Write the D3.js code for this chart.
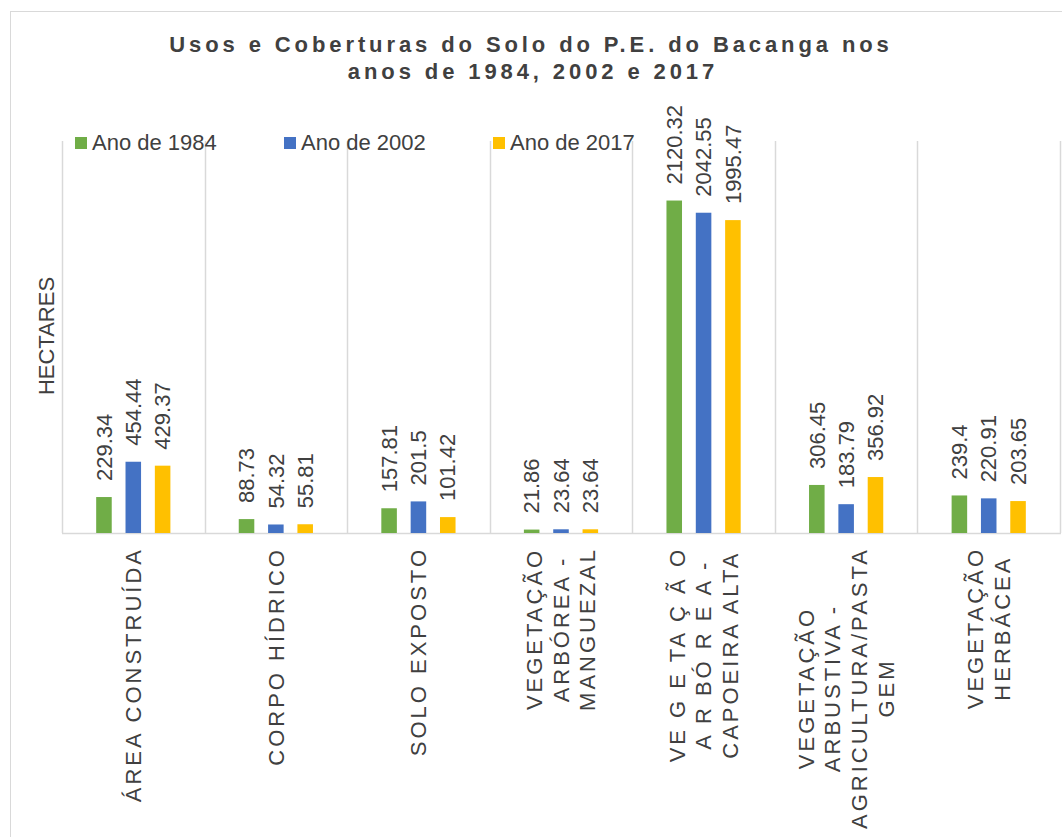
<!DOCTYPE html>
<html>
<head>
<meta charset="utf-8">
<script src="https://cdn.jsdelivr.net/npm/d3@7"></script>
<style>
  body { margin: 0; background: #fff; }
  svg text { font-family: "Liberation Sans", Arial, sans-serif; fill: #404040; }
</style>
</head>
<body>
<svg></svg>
<script>
const categories = [
  "ÁREA CONSTRUÍDA",
  "CORPO HÍDRICO",
  "SOLO EXPOSTO",
  "VEGETAÇÃO ARBÓREA - MANGUEZAL",
  "VEGETAÇÃO ARBÓREA - CAPOEIRA ALTA",
  "VEGETAÇÃO ARBUSTIVA - AGRICULTURA/PASTAGEM",
  "VEGETAÇÃO HERBÁCEA"
];

// lines as they are broken under the axis
const categoryLines = [
  ["ÁREA  CONSTRUÍDA"],
  ["CORPO HÍDRICO"],
  ["SOLO  EXPOSTO"],
  ["VEGETAÇÃO", "ARBÓREA -", "MANGUEZAL"],
  ["VE G E TA Ç Ã O", "A R BÓ R E A -", "CAPOEIRA ALTA"],
  ["VEGETAÇÃO", "ARBUSTIVA -", "AGRICULTURA/PASTA", "GEM"],
  ["VEGETAÇÃO", "HERBÁCEA"]
];

const seriesNames = ["Ano de 1984", "Ano de 2002", "Ano de 2017"];
const values1984 = [229.34, 88.73, 157.81, 21.86, 2120.32, 306.45, 239.4];
const values2002 = [454.44, 54.32, 201.5, 23.64, 2042.55, 183.79, 220.91];
const values2017 = [429.37, 55.81, 101.42, 23.64, 1995.47, 356.92, 203.65];

const colors = ["#70AD47", "#4472C4", "#FFC000"];

const width = 1062;
const height = 837;

const svg = d3.select("svg")
  .attr("width", width)
  .attr("height", height);

// chart border
svg.append("rect")
  .attr("x", 10.5)
  .attr("y", 11.5)
  .attr("width", 1100)
  .attr("height", 900)
  .attr("fill", "#fff")
  .attr("stroke", "#d9d9d9");

const plot = { left: 62, right: 1060, top: 141, bottom: 533 };

const x = d3.scaleBand()
  .domain(categories)
  .range([plot.left, plot.right]);

const cw = x.bandwidth();

const x1 = d3.scaleBand()
  .domain(seriesNames)
  .range([cw / 2 - 44, cw / 2 + 44])
  .paddingInner(0.47)
  .paddingOuter(0.235);

const y = d3.scaleLinear()
  .domain([0, 2500])
  .range([plot.bottom, plot.top]);

const seriesValues = [values1984, values2002, values2017];

// vertical gridlines between categories
const bounds = categories.map(c => x(c)).concat([plot.right]);
svg.append("g")
  .selectAll("line")
  .data(bounds)
  .join("line")
  .attr("x1", d => Math.round(d) + 0.5)
  .attr("x2", d => Math.round(d) + 0.5)
  .attr("y1", plot.top)
  .attr("y2", plot.bottom)
  .attr("stroke", "#d9d9d9")
  .attr("stroke-width", 1.5);

// baseline
svg.append("line")
  .attr("x1", plot.left)
  .attr("x2", plot.right + 1)
  .attr("y1", plot.bottom + 0.5)
  .attr("y2", plot.bottom + 0.5)
  .attr("stroke", "#d9d9d9")
  .attr("stroke-width", 1.5);

// bars and labels
const rows = [];
categories.forEach((c, i) => {
  seriesNames.forEach((s, j) => {
    rows.push({ cat: c, series: s, value: seriesValues[j][i], color: colors[j] });
  });
});

const bars = svg.append("g");

bars.selectAll("rect")
  .data(rows)
  .join("rect")
  .attr("x", d => x(d.cat) + x1(d.series))
  .attr("y", d => y(d.value))
  .attr("width", x1.bandwidth())
  .attr("height", d => y(0) - y(d.value))
  .attr("fill", d => d.color);

bars.selectAll("text")
  .data(rows)
  .join("text")
  .attr("transform", d => {
    const cx = x(d.cat) + x1(d.series) + x1.bandwidth() / 2;
    return `translate(${cx},${y(d.value) - 16}) rotate(-90)`;
  })
  .attr("dy", "0.35em")
  .attr("font-size", 22)
  .text(d => d.value);

// category labels
const catG = svg.append("g");
categories.forEach((c, i) => {
  const lines = categoryLines[i];
  const cx = x(c) + cw / 2;
  const g = catG.append("g");
  const texts = g.selectAll("text")
    .data(lines)
    .join("text")
    .attr("font-size", 22)
    .attr("letter-spacing", "3px")
    .attr("text-anchor", "middle")
    .attr("dy", "0.35em")
    .text(d => d);
  let maxLen = 0;
  texts.each(function() { maxLen = Math.max(maxLen, this.getComputedTextLength()); });
  const yc = 547 + maxLen / 2;
  texts.attr("transform", (d, k) => {
    const lx = cx + (k - (lines.length - 1) / 2) * 26.7;
    return `translate(${lx},${yc}) rotate(-90)`;
  });
});

// y axis title
svg.append("text")
  .attr("transform", "translate(46.5,336) rotate(-90)")
  .attr("text-anchor", "middle")
  .attr("dy", "0.35em")
  .attr("font-size", 22)
  .text("HECTARES");

// title
const title = svg.append("text")
  .attr("text-anchor", "middle")
  .attr("font-size", 22)
  .attr("font-weight", "bold")
  .attr("letter-spacing", "3.9px");

title.append("tspan")
  .attr("x", 531)
  .attr("y", 52)
  .text("Usos e Coberturas do Solo do P.E. do Bacanga nos");

title.append("tspan")
  .attr("x", 533)
  .attr("y", 79)
  .text("anos de 1984, 2002 e 2017");

// legend
const legend = svg.append("g")
  .selectAll("g")
  .data(seriesNames)
  .join("g")
  .attr("transform", (d, i) => `translate(${75 + i * 209}, 137)`);

legend.append("rect")
  .attr("width", 12)
  .attr("height", 12)
  .attr("fill", (d, i) => colors[i]);

legend.append("text")
  .attr("x", 17)
  .attr("y", 13)
  .attr("font-size", 22)
  .text(d => d);
</script>
</body>
</html>
